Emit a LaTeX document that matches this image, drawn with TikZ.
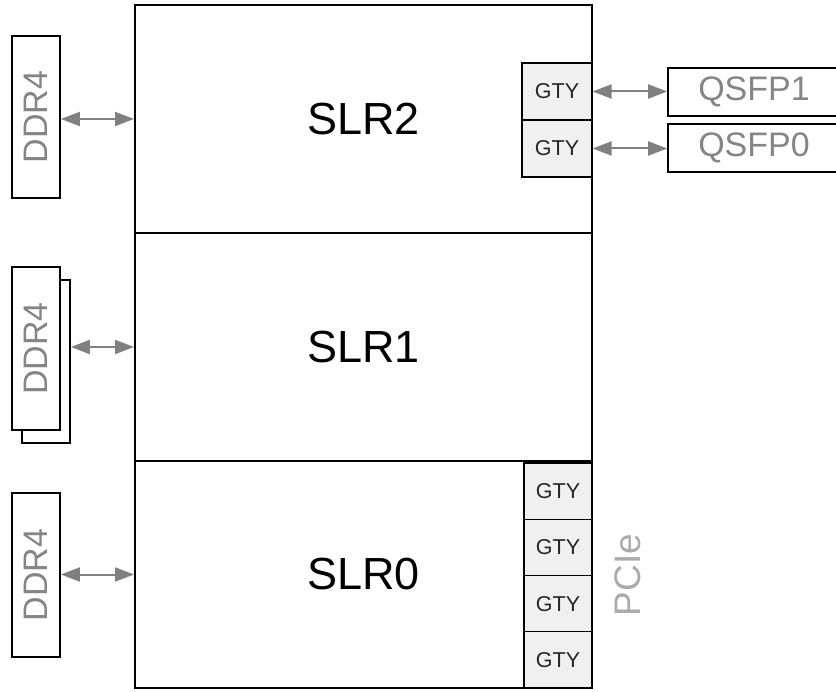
\documentclass[tikz,border=0pt]{standalone}
\usepackage{fontspec}
\setmainfont{Liberation Sans}
\usetikzlibrary{arrows.meta}
\definecolor{arrgray}{HTML}{808080}
\definecolor{txtgray}{HTML}{858585}
\definecolor{ltgray}{HTML}{ABABAB}
\definecolor{gtyfill}{HTML}{F0F0F0}
\begin{document}
\begin{tikzpicture}[x=1pt,y=-1pt,
  slr/.style={draw, line width=2pt, minimum width=457pt, minimum height=228pt, inner sep=0pt, font=\fontsize{45}{54}\selectfont},
  gty/.style={draw, line width=1.2pt, fill=gtyfill, minimum width=70pt, minimum height=57pt, inner sep=0pt, text=black!85, font=\fontsize{21.5}{25}\selectfont},
  ddr/.style={draw, line width=1.8pt, fill=white, minimum width=162pt, minimum height=48pt, inner sep=0pt, rotate=90, text=txtgray, font=\fontsize{34}{40}\selectfont},
  qsfp/.style={draw, line width=1.6pt, fill=white, minimum width=172pt, minimum height=48pt, inner sep=0pt, text=txtgray, font=\fontsize{34}{40}\selectfont},
  tip/.tip={Triangle[length=19pt,width=14pt]},
  arr/.style={tip-tip, draw=arrgray, fill=arrgray, line width=2pt}]
\clip (0,0) rectangle (836,692);
\fill[white] (0,0) rectangle (836,692);
% GTY blocks
\node[gty] (g21) at (557,91.5) {GTY};
\node[gty] (g20) at (557,148.5) {GTY};
\node[gty, minimum width=68pt, minimum height=56.25pt] (g03) at (558,491.1) {GTY};
\node[gty, minimum width=68pt, minimum height=56.25pt] (g02) at (558,547.4) {GTY};
\node[gty, minimum width=68pt, minimum height=56.25pt] (g01) at (558,603.6) {GTY};
\node[gty, minimum width=68pt, minimum height=56.25pt] (g00) at (558,659.9) {GTY};
% SLRs
\node[slr] (s2) at (363.5,119) {SLR2};
\node[slr] (s1) at (363.5,347) {SLR1};
\node[slr, minimum height=227pt] (s0) at (363.5,574.5) {SLR0};
% DDR4
\node[ddr] (d2) at (36,117) {DDR4};
\node[ddr, minimum width=163pt] (d1b) at (46,361.5) {};
\node[ddr, minimum width=163pt] (d1) at (36,348.5) {DDR4};
\node[ddr, minimum width=164pt] (d0) at (36,575) {DDR4};
% QSFP
\node[qsfp] (q1) at (754,92) {QSFP1};
\node[qsfp] (q0) at (754,148) {QSFP0};
% PCIe
\node[rotate=90, text=ltgray, font=\fontsize{37}{44}\selectfont] (pcie) at (628,575) {PCIe};
% connectors
\draw[arr] (d2.south |- s2.west) -- (s2.west);
\draw[arr] (d1b.south |- s1.west) -- (s1.west);
\draw[arr] (d0.south |- s0.west) -- (s0.west);
\draw[arr] (g21.east) -- (g21.east -| q1.west);
\draw[arr] (g20.east) -- (g20.east -| q0.west);
\end{tikzpicture}
\end{document}
